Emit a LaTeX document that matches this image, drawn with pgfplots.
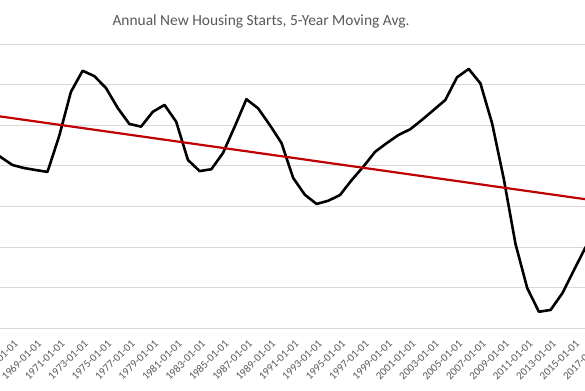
\documentclass[border=0pt]{standalone}
\usepackage{pgfplots}
\pgfplotsset{compat=1.18}
\usepackage{fontspec}
\setmainfont{Carlito}
\definecolor{txt}{HTML}{595959}
\definecolor{grd}{HTML}{D9D9D9}
\definecolor{trend}{HTML}{C00000}
\begin{document}
\begin{tikzpicture}[x=1bp,y=1bp]
\useasboundingbox (0,0) rectangle (585,390);
\fill[white] (0,0) rectangle (585,390);
\clip (0,0) rectangle (585,390);
\begin{axis}[
  at={(-16.85bp,61.8bp)}, anchor=south west,
  scale only axis, width=620.1bp, height=284.2bp,
  xmin=1964.5, xmax=2017.5, ymin=600, ymax=2000,
  axis line style={draw=none},
  major tick length=0pt,
  ytick={600,800,...,2000}, yticklabels={},
  ymajorgrids, grid style={grd, line width=0.9bp},
  xtick={1965,1967,...,2017},
  xticklabels={1965-01-01,1967-01-01,1969-01-01,1971-01-01,1973-01-01,1975-01-01,1977-01-01,1979-01-01,1981-01-01,1983-01-01,1985-01-01,1987-01-01,1989-01-01,1991-01-01,1993-01-01,1995-01-01,1997-01-01,1999-01-01,2001-01-01,2003-01-01,2005-01-01,2007-01-01,2009-01-01,2011-01-01,2013-01-01,2015-01-01,2017-01-01},
  xticklabel style={xshift=1bp, yshift=-11bp, rotate=45, anchor=north east, inner sep=0pt, font=\fontsize{11}{13}\selectfont, text=txt},
]
\addplot[black, line width=2.6bp, line join=round] coordinates {
(1965,1488) (1966,1443) (1967,1404) (1968,1389) (1969,1379) (1970,1370)
(1971,1547) (1972,1764) (1973,1868) (1974,1842) (1975,1783) (1976,1685)
(1977,1606) (1978,1593) (1979,1666) (1980,1700) (1981,1617) (1982,1429)
(1983,1374) (1984,1383) (1985,1463) (1986,1593) (1987,1728) (1988,1683)
(1989,1601) (1990,1512) (1991,1340) (1992,1257) (1993,1212) (1994,1228)
(1995,1256) (1996,1330) (1997,1396) (1998,1469) (1999,1512) (2000,1552)
(2001,1580) (2002,1626) (2003,1675) (2004,1724) (2005,1836) (2006,1877)
(2007,1806) (2008,1609) (2009,1335) (2010,1015) (2011,798) (2012,681)
(2013,690) (2014,772) (2015,887) (2016,1000) (2017,1080)
};
\addplot[trend, line width=2.2bp] coordinates {(1965,1651) (2017,1227)};
\end{axis}
\node[font=\fontsize{15.5}{19}\selectfont, text=txt] at (261,369) {Annual New Housing Starts, 5-Year Moving Avg.};
\end{tikzpicture}
\end{document}
